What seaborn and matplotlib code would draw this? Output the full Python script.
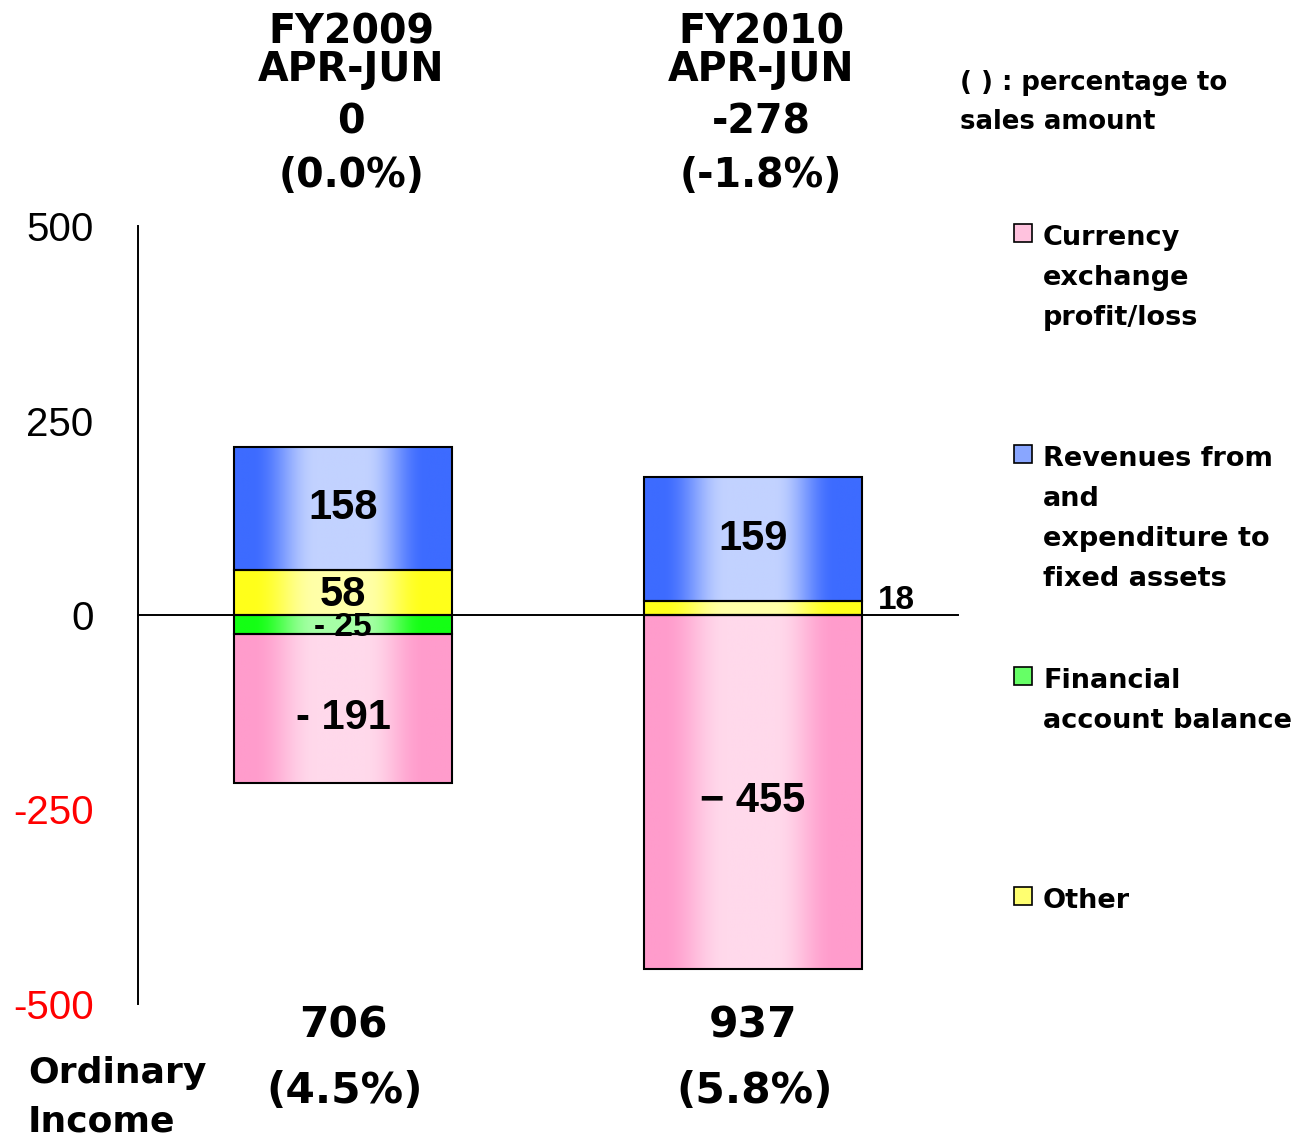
import numpy as np
import pandas as pd
import matplotlib
matplotlib.use("Agg")
import matplotlib.pyplot as plt
from matplotlib.patches import Rectangle
from matplotlib.transforms import blended_transform_factory
from matplotlib.colors import to_rgb
import seaborn as sns

# ---- data (100 million yen) ----
periods = ["FY2009\nAPR-JUN", "FY2010\nAPR-JUN"]
currency_fx = [-191, -455]
fixed_assets = [158, 159]
financial_balance = [-25, 0]
other = [58, 18]
ordinary_income = [706, 937]
ordinary_pct = [4.5, 5.8]
net_pct = [0.0, -1.8]
minus_signs = ["-", "\u2212"]
y_ticks = [-500, -250, 0, 250, 500]
legend_labels = [
    "Currency\nexchange\nprofit/loss",
    "Revenues from\nand\nexpenditure to\nfixed assets",
    "Financial\naccount balance",
    "Other",
]

# edge (saturated), centre (light) and swatch colours of each series
series_style = {
    "currency": ("#ff9ccc", "#ffd9eb", "#ffc2de"),
    "fixed": ("#3d6bff", "#c2d2ff", "#89a6ff"),
    "financial": ("#14ff14", "#a6ffa6", "#66ff66"),
    "other": ("#ffff1a", "#ffffa8", "#ffff70"),
}

sns.set_style("white")
plt.rcParams["font.family"] = ["DejaVu Sans"]
plt.rcParams["text.color"] = "black"

df = pd.DataFrame({
    "period": periods,
    "currency": currency_fx,
    "fixed": fixed_assets,
    "financial": financial_balance,
    "other": other,
})
net = df[["currency", "fixed", "financial", "other"]].sum(axis=1).tolist()

W, H = 1294, 1138
fig = plt.figure(figsize=(W / 100, H / 100), dpi=100)
ax = fig.add_axes([138 / W, 134 / H, 820 / W, 778 / H])

bar_width = 0.53
stack = [
    ("other", 0),
    ("fixed", df["other"].values),
    ("financial", 0),
    ("currency", df["financial"].values),
]
patches_by_series = {}
for key, bottom in stack:
    n0 = len(ax.patches)
    sns.barplot(data=df, x="period", y=key, bottom=bottom, width=bar_width,
                color=series_style[key][0], edgecolor="black", linewidth=1.5,
                errorbar=None, ax=ax)
    patches_by_series[key] = ax.patches[n0:]


def gradient_strip(edge, centre, n=256):
    t = np.linspace(0, 1, n)
    f = np.interp(t, [0, 0.08, 0.38, 0.60, 0.88, 1.0], [0, 0, 1, 1, 0, 0])
    f = 0.5 - 0.5 * np.cos(np.pi * f)
    e, c = np.array(to_rgb(edge)), np.array(to_rgb(centre))
    return (e[None, :] * (1 - f[:, None]) + c[None, :] * f[:, None])[None, :, :]


for key, plist in patches_by_series.items():
    edge, centre, _ = series_style[key]
    strip = gradient_strip(edge, centre)
    for p in plist:
        h = p.get_height()
        if h == 0:
            continue
        x0, w, y0 = p.get_x(), p.get_width(), p.get_y()
        ax.imshow(strip, extent=(x0, x0 + w, min(y0, y0 + h), max(y0, y0 + h)),
                  aspect="auto", interpolation="bilinear", zorder=0.8)
        p.set_facecolor("none")
        p.set_zorder(1.2)

ax.set_xlim(-0.5, 1.5)
ax.set_ylim(-500, 500)
ax.set_xlabel("")
ax.set_ylabel("")

for s in ["top", "right"]:
    ax.spines[s].set_visible(False)
ax.spines["bottom"].set_position(("data", 0))
for s in ["left", "bottom"]:
    ax.spines[s].set_linewidth(1.4)
    ax.spines[s].set_color("black")
    ax.spines[s].set_zorder(3)

ax.set_xticks([-0.5, 0.5, 1.5])
ax.set_xticklabels([])
ax.tick_params(axis="x", direction="in", length=7, width=1.2, color="black")

ax.set_yticks(y_ticks)
ax.set_yticklabels([str(v) for v in y_ticks])
ax.tick_params(axis="y", direction="in", length=7, width=1.2, pad=32, color="black")
for lbl, v in zip(ax.get_yticklabels(), y_ticks):
    lbl.set_fontfamily(["Liberation Sans", "DejaVu Sans"])
    lbl.set_fontsize(29)
    lbl.set_color("red" if v < 0 else "black")

# ---- segment value labels ----
bar_font = dict(family=["Liberation Sans", "DejaVu Sans"], fontweight="bold",
                ha="center", va="center", color="black", zorder=5)


def seg_label(v, i):
    return f"{minus_signs[i]} {abs(v)}" if v < 0 else f"{v}"


for i in range(len(periods)):
    fx, fa, fb, ot = currency_fx[i], fixed_assets[i], financial_balance[i], other[i]
    ax.text(i, ot + fa / 2, seg_label(fa, i), fontsize=30, **bar_font)
    ax.text(i, fb + fx / 2 - 12, seg_label(fx, i), fontsize=30, **bar_font)
    if ot >= 40:
        ax.text(i, ot / 2 - 3, seg_label(ot, i), fontsize=30, **bar_font)
    else:
        ax.text(i + bar_width / 2 + 0.04, ot, seg_label(ot, i), fontsize=24,
                **{**bar_font, "ha": "left"})
    if fb != 0:
        ax.text(i, fb / 2 - 3, seg_label(fb, i), fontsize=24, **bar_font)

# ---- header and footer per period ----
trans = blended_transform_factory(ax.transData, fig.transFigure)
head = dict(fontweight="bold", ha="center", va="baseline", color="black", fontsize=28.5)
foot = dict(fontweight="bold", ha="center", va="baseline", color="black", fontsize=30.5)
for i, per in enumerate(periods):
    fy, q = per.split("\n")
    ax.text(i + 0.02, 1 - 43 / H, fy, transform=trans, **head)
    ax.text(i + 0.02, 1 - 81 / H, q, transform=trans, **head)
    ax.text(i + 0.02, 1 - 134 / H, f"{net[i]}", transform=trans, **head)
    ax.text(i + 0.02, 1 - 187 / H, f"({net_pct[i]:.1f}%)", transform=trans, **head)
    ax.text(i, 1 - 1038 / H, f"{ordinary_income[i]}", transform=trans, **foot)
    ax.text(i + 0.005, 1 - 1103 / H, f"({ordinary_pct[i]:.1f}%)", transform=trans, **foot)

fig.text(28 / W, 1 - 1083 / H, "Ordinary", fontsize=26, fontweight="bold",
         ha="left", va="baseline")
fig.text(28 / W, 1 - 1132 / H, "Income", fontsize=26, fontweight="bold",
         ha="left", va="baseline")

fig.text(960 / W, 1 - 90 / H, "( ) : percentage to", fontsize=18.7, fontweight="bold",
         ha="left", va="baseline")
fig.text(960 / W, 1 - 129 / H, "sales amount", fontsize=18.7, fontweight="bold",
         ha="left", va="baseline")

# ---- legend ----
legend_keys = ["currency", "fixed", "financial", "other"]
legend_baselines = [245, 466, 688, 908]
line_step = 40
for key, label, base in zip(legend_keys, legend_labels, legend_baselines):
    fig.add_artist(Rectangle((1014 / W, 1 - (base - 3) / H), 18 / W, 18 / H,
                             transform=fig.transFigure,
                             facecolor=series_style[key][2], edgecolor="black",
                             linewidth=1.2))
    for k, line in enumerate(label.split("\n")):
        fig.text(1043 / W, 1 - (base + k * line_step) / H, line, fontsize=19.5,
                 fontweight="bold", ha="left", va="baseline")

fig.savefig("out.png", dpi=100)
